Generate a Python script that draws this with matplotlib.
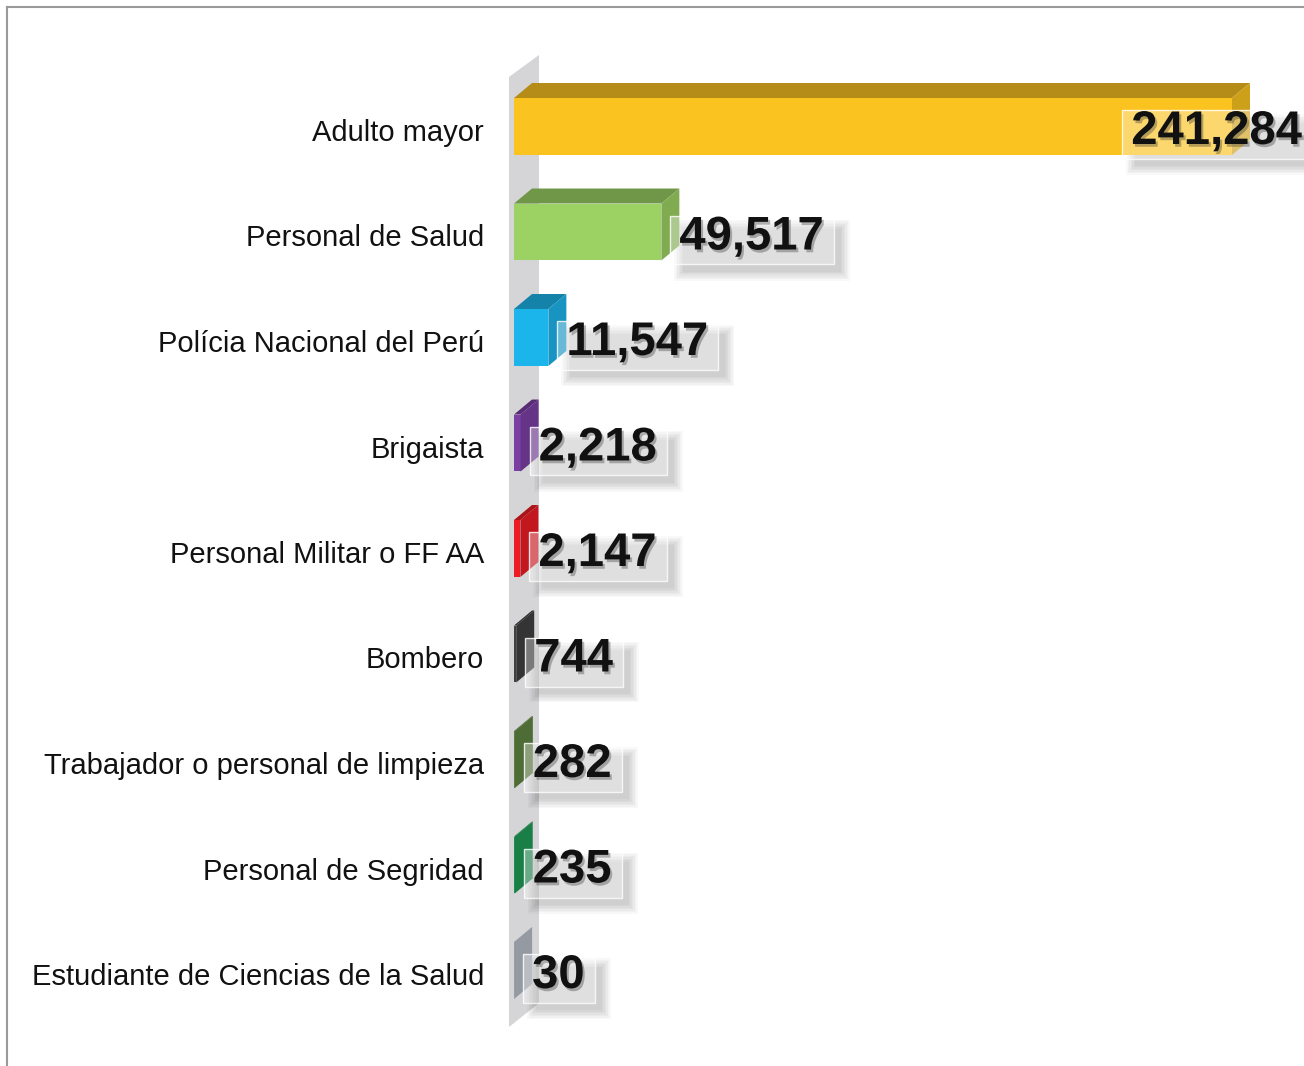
import matplotlib
matplotlib.use("Agg")
import matplotlib.pyplot as plt
import matplotlib.patheffects as pe
from matplotlib import transforms
from matplotlib.patches import Polygon, Rectangle
from matplotlib.lines import Line2D
import numpy as np

categories = ["Adulto mayor", "Personal de Salud", "Polícia Nacional del Perú",
              "Brigaista", "Personal Militar o FF AA", "Bombero",
              "Trabajador o personal de limpieza", "Personal de Segridad",
              "Estudiante de Ciencias de la Salud"]
values = [241284, 49517, 11547, 2218, 2147, 744, 282, 235, 30]
bar_colors = ["#FAC320", "#9CD163", "#1CB5EB", "#7B3FA3", "#EC1C24",
              "#404040", "#5E8442", "#1E9B55", "#B4BBC6"]

plt.rcParams['font.family'] = ['Liberation Sans', 'DejaVu Sans']

W, H = 1304, 1066
fig = plt.figure(figsize=(W / 100, H / 100), dpi=100)
fig.patch.set_facecolor("white")

# axes spans from the zero line to the right edge
x0_px, span_px, bar_px = 514, W - 514, 718
step_px, first_px = 105.5, 126.5
ax = fig.add_axes([x0_px / W, 0, span_px / W, 1])
xmax = max(values) * span_px / bar_px
ax.set_xlim(0, xmax)
ax.set_ylim(len(values) - 1 + (H - first_px - (len(values) - 1) * step_px) / step_px,
            -first_px / step_px)
ax.axis("off")

px = xmax / span_px      # data units per pixel, x
py = 1 / step_px         # data units per pixel, y (down)


def shade(c, f):
    r, g, b = matplotlib.colors.to_rgb(c)
    return (r * f, g * f, b * f)


# back wall
wall = Polygon([(-5 * px, (77 - first_px) * py), (25 * px, (55 - first_px) * py),
                (25 * px, (1003 - first_px) * py), (-5 * px, (1027 - first_px) * py)],
               closed=True, facecolor="#d5d4d6", edgecolor="none", zorder=1, clip_on=False)
ax.add_patch(wall)

# bars with 3d faces
h = 0.54
dx, dy = 18 * px, -15 * py
ypos = np.arange(len(values))
ax.barh(ypos, values, height=h, color=bar_colors, zorder=3, edgecolor="none")
for i, (v, c) in enumerate(zip(values, bar_colors)):
    top = i - h / 2
    ax.add_patch(Polygon([(0, top), (v, top), (v + dx, top + dy), (dx, top + dy)],
                         facecolor=shade(c, 0.72), edgecolor="none", zorder=3))
    ax.add_patch(Polygon([(v, top), (v, top + h), (v + dx, top + h + dy), (v + dx, top + dy)],
                         facecolor=shade(c, 0.82), edgecolor="none", zorder=3))

# category labels
lab_tr = transforms.offset_copy(ax.transData, fig=fig, x=-30, y=-14.5, units='dots')
for i, name in enumerate(categories):
    ax.text(0, i, name, transform=lab_tr, ha="right", va="baseline",
            fontsize=21, color="#111111", clip_on=False)

# value labels
val_tr = transforms.offset_copy(ax.transData, fig=fig, x=18, y=-17.5, units='dots')
texts = []
for i, v in enumerate(values):
    t = ax.text(v, i, f"{v:,}", transform=val_tr, ha="left", va="baseline",
                fontsize=34, fontweight="bold", color="#111111", zorder=6,
                path_effects=[pe.withSimplePatchShadow(offset=(1.5, -2), shadow_rgbFace="#333333", alpha=0.35)])
    texts.append(t)

fig.canvas.draw()
renderer = fig.canvas.get_renderer()
inv = ax.transData.inverted()
for i, t in enumerate(texts):
    bb = t.get_window_extent(renderer)
    if bb.x1 > W:
        t.set_transform(transforms.offset_copy(ax.transData, fig=fig, x=-2, y=-17.5, units='dots'))
        t.set_x(xmax)
        t.set_ha("right")
        bb = t.get_window_extent(renderer)
    bx0, bx1 = bb.x0 - 9, bb.x1 + 10
    by0, by1 = bb.y0 - 5, bb.y1
    # blurred drop shadow under the box
    for k in range(7):
        g = 6 - k * 1.5
        (sx0, sy0) = inv.transform((bx0 + 10 - g, by0 - 10 - g))
        (sx1, sy1) = inv.transform((bx1 + 10 + g, by1 - 10 + g))
        ax.add_patch(Rectangle((sx0, sy1), sx1 - sx0, sy0 - sy1, facecolor="black",
                               alpha=0.026, edgecolor="none", zorder=2))
    (rx0, ry0) = inv.transform((bx0, by0))
    (rx1, ry1) = inv.transform((bx1, by1))
    ax.add_patch(Rectangle((rx0, ry1), rx1 - rx0, ry0 - ry1, facecolor="white", alpha=0.35,
                           edgecolor="none", zorder=4))
    ax.add_patch(Rectangle((rx0, ry1), rx1 - rx0, ry0 - ry1, facecolor="none",
                           edgecolor="white", alpha=0.8, linewidth=1, zorder=4))

# outer frame (left and top edges)
fx, fy = 7 / W, 1 - 7 / H
fig.add_artist(Line2D([fx, fx], [0, fy], color="#9a9a9a", linewidth=1.5))
fig.add_artist(Line2D([fx, 1], [fy, fy], color="#9a9a9a", linewidth=1.5))

fig.savefig("out.png", dpi=100)
